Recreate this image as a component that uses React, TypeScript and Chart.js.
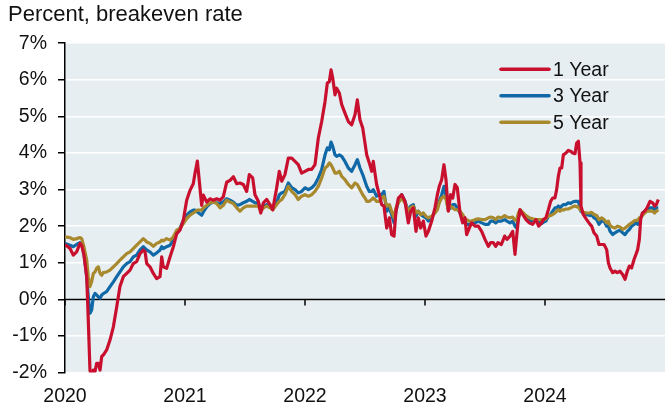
import React, { useEffect, useRef } from "react";
import { Chart, registerables } from "chart.js";

Chart.register(...registerables);

const titleText = "Percent, breakeven rate";
const seriesLabels = ["1 Year", "3 Year", "5 Year"];
const seriesColors = ["#C8102E", "#1068A6", "#A8892E"];
const xTickYears = [2020, 2021, 2022, 2023, 2024];
const yMin = -2;
const yMax = 7;

// decimal years
const dates = [
  2020.000, 2020.042, 2020.069, 2020.097, 2020.125, 2020.139, 2020.158, 2020.181, 2020.194, 2020.208,
  2020.222, 2020.236, 2020.250, 2020.264, 2020.278, 2020.292, 2020.306, 2020.319, 2020.347, 2020.375,
  2020.403, 2020.431, 2020.458, 2020.486, 2020.514, 2020.542, 2020.569, 2020.597, 2020.625, 2020.653,
  2020.667, 2020.681, 2020.708, 2020.736, 2020.764, 2020.792, 2020.806, 2020.819, 2020.847, 2020.875,
  2020.903, 2020.931, 2020.958, 2020.986, 2021.014, 2021.042, 2021.069, 2021.083, 2021.103, 2021.139,
  2021.153, 2021.181, 2021.208, 2021.236, 2021.264, 2021.292, 2021.319, 2021.347, 2021.375, 2021.403,
  2021.431, 2021.458, 2021.486, 2021.514, 2021.536, 2021.564, 2021.583, 2021.611, 2021.631, 2021.653,
  2021.681, 2021.708, 2021.731, 2021.764, 2021.786, 2021.806, 2021.833, 2021.861, 2021.889, 2021.917,
  2021.944, 2021.972, 2022.000, 2022.028, 2022.056, 2022.083, 2022.111, 2022.139, 2022.167, 2022.186,
  2022.203, 2022.217, 2022.231, 2022.250, 2022.264, 2022.286, 2022.306, 2022.333, 2022.361, 2022.389,
  2022.417, 2022.436, 2022.458, 2022.481, 2022.500, 2022.514, 2022.536, 2022.556, 2022.569, 2022.583,
  2022.597, 2022.619, 2022.639, 2022.658, 2022.681, 2022.703, 2022.722, 2022.742, 2022.758, 2022.778,
  2022.806, 2022.833, 2022.861, 2022.881, 2022.903, 2022.925, 2022.944, 2022.964, 2022.986, 2023.008,
  2023.028, 2023.056, 2023.083, 2023.103, 2023.119, 2023.139, 2023.158, 2023.175, 2023.194, 2023.214,
  2023.231, 2023.250, 2023.269, 2023.292, 2023.314, 2023.333, 2023.347, 2023.369, 2023.389, 2023.417,
  2023.444, 2023.472, 2023.500, 2023.528, 2023.547, 2023.569, 2023.589, 2023.608, 2023.636, 2023.664,
  2023.683, 2023.708, 2023.731, 2023.750, 2023.764, 2023.778, 2023.792, 2023.814, 2023.842, 2023.869,
  2023.897, 2023.925, 2023.947, 2023.972, 2023.986, 2024.008, 2024.028, 2024.047, 2024.064, 2024.083,
  2024.097, 2024.111, 2024.125, 2024.139, 2024.153, 2024.175, 2024.194, 2024.214, 2024.231, 2024.250,
  2024.264, 2024.278, 2024.292, 2024.300, 2024.319, 2024.347, 2024.375, 2024.389, 2024.408, 2024.431,
  2024.450, 2024.472, 2024.492, 2024.514, 2024.528, 2024.542, 2024.564, 2024.583, 2024.603, 2024.625,
  2024.647, 2024.667, 2024.686, 2024.703, 2024.722, 2024.742, 2024.758, 2024.772, 2024.786, 2024.797,
  2024.811, 2024.831, 2024.850, 2024.875, 2024.897, 2024.914, 2024.928, 2024.944,
];

const oneYear = [
  1.50, 1.39, 1.21, 1.30, 1.53, 1.48, 1.21, 0.62, -0.56, -1.93,
  -2.15, -1.93, -1.97, -1.75, -1.75, -1.93, -1.56, -1.52, -1.38, -1.11,
  -0.75, -0.20, 0.35, 0.62, 0.71, 0.80, 0.98, 1.03, 1.25, 1.35,
  1.30, 0.98, 0.89, 0.71, 0.57, 0.62, 1.16, 0.89, 0.85, 1.16,
  1.44, 1.80, 1.89, 2.16, 2.71, 2.98, 3.16, 3.44, 3.78, 2.57,
  2.85, 2.66, 2.75, 2.71, 2.75, 2.71, 2.80, 3.20, 3.25, 3.35,
  3.16, 3.18, 3.14, 2.95, 3.41, 3.32, 2.86, 2.68, 2.36, 2.64,
  2.73, 2.59, 2.45, 3.05, 3.50, 3.23, 3.41, 3.86, 3.86, 3.77,
  3.68, 3.45, 3.50, 3.55, 3.55, 3.68, 4.41, 4.86, 5.41, 5.91,
  5.95, 6.27, 6.05, 5.59, 5.77, 5.64, 5.32, 5.09, 4.86, 4.77,
  5.05, 5.45, 4.91, 4.68, 4.27, 3.95, 3.73, 3.50, 3.77, 3.45,
  3.14, 2.86, 2.59, 2.55, 1.95, 2.23, 1.77, 1.73, 2.41, 2.77,
  2.86, 2.68, 2.09, 2.41, 2.50, 1.86, 2.23, 1.95, 2.14, 1.73,
  1.86, 2.14, 2.50, 2.86, 3.09, 3.27, 3.68, 3.27, 2.41, 2.86,
  2.77, 3.14, 3.05, 2.36, 2.09, 2.23, 1.77, 1.95, 2.09, 2.00,
  2.00, 1.86, 1.64, 1.45, 1.55, 1.55, 1.45, 1.55, 1.50, 1.73,
  1.64, 1.73, 1.86, 1.23, 1.73, 2.18, 2.45, 2.32, 2.18, 2.09,
  2.05, 2.18, 2.00, 2.09, 2.18, 2.23, 2.45, 2.68, 2.77, 2.77,
  3.00, 3.36, 3.59, 3.59, 3.95, 4.00, 4.07, 4.05, 4.00, 3.98,
  4.27, 4.32, 3.73, 2.55, 2.32, 2.18, 2.05, 2.00, 1.82, 1.73,
  1.50, 1.50, 1.50, 1.36, 1.00, 0.86, 0.73, 0.77, 0.73, 0.77,
  0.68, 0.55, 0.77, 0.91, 0.86, 1.09, 1.23, 1.36, 1.64, 2.18,
  2.36, 2.41, 2.50, 2.68, 2.64, 2.55, 2.59, 2.73,
];

const threeYear = [
  1.53, 1.48, 1.44, 1.50, 1.55, 1.53, 1.25, 0.62, 0.07, -0.38,
  -0.29, 0.07, 0.16, 0.12, 0.07, 0.03, 0.12, 0.16, 0.21, 0.35,
  0.48, 0.62, 0.75, 0.89, 0.98, 1.03, 1.16, 1.21, 1.35, 1.44,
  1.39, 1.35, 1.30, 1.21, 1.27, 1.35, 1.44, 1.39, 1.44, 1.48,
  1.62, 1.80, 1.94, 2.16, 2.30, 2.39, 2.44, 2.44, 2.39, 2.30,
  2.39, 2.53, 2.62, 2.66, 2.64, 2.62, 2.66, 2.75, 2.71, 2.66,
  2.57, 2.59, 2.64, 2.68, 2.73, 2.68, 2.64, 2.64, 2.45, 2.55,
  2.59, 2.55, 2.50, 2.64, 2.86, 2.91, 2.95, 3.18, 3.05, 3.00,
  2.91, 2.95, 3.05, 3.00, 3.05, 3.14, 3.32, 3.55, 3.95, 4.14,
  4.09, 4.30, 4.18, 3.95, 3.91, 3.95, 3.91, 3.77, 3.59, 3.50,
  3.68, 3.82, 3.59, 3.41, 3.23, 3.09, 2.95, 2.95, 3.00, 2.91,
  2.82, 2.86, 2.86, 2.95, 2.41, 2.50, 2.32, 2.09, 2.41, 2.68,
  2.86, 2.68, 2.41, 2.55, 2.59, 2.27, 2.41, 2.32, 2.27, 2.23,
  2.14, 2.23, 2.41, 2.50, 2.68, 2.86, 3.09, 2.82, 2.45, 2.50,
  2.59, 2.59, 2.50, 2.36, 2.18, 2.14, 2.05, 2.05, 2.09, 2.09,
  2.14, 2.09, 2.05, 2.05, 2.14, 2.14, 2.09, 2.14, 2.14, 2.18,
  2.14, 2.09, 2.14, 2.00, 1.95, 2.23, 2.41, 2.36, 2.23, 2.16,
  2.14, 2.14, 2.14, 2.07, 2.11, 2.14, 2.27, 2.32, 2.41, 2.50,
  2.50, 2.55, 2.50, 2.55, 2.59, 2.59, 2.64, 2.62, 2.66, 2.68,
  2.68, 2.68, 2.50, 2.41, 2.36, 2.32, 2.29, 2.32, 2.23, 2.18,
  2.05, 2.14, 2.14, 2.00, 2.00, 1.86, 1.77, 1.82, 1.86, 1.89,
  1.82, 1.77, 1.86, 1.91, 2.00, 2.05, 2.09, 2.05, 2.14, 2.23,
  2.32, 2.41, 2.45, 2.50, 2.50, 2.45, 2.50, 2.50,
];

const fiveYear = [
  1.71, 1.69, 1.64, 1.66, 1.69, 1.66, 1.44, 1.07, 0.62, 0.35,
  0.48, 0.71, 0.75, 0.85, 0.89, 0.71, 0.66, 0.73, 0.75, 0.80,
  0.89, 0.98, 1.07, 1.16, 1.25, 1.30, 1.39, 1.48, 1.57, 1.66,
  1.62, 1.57, 1.53, 1.45, 1.53, 1.57, 1.62, 1.60, 1.66, 1.62,
  1.71, 1.89, 1.94, 2.07, 2.21, 2.30, 2.36, 2.39, 2.44, 2.44,
  2.50, 2.57, 2.64, 2.66, 2.62, 2.50, 2.57, 2.71, 2.66, 2.62,
  2.50, 2.41, 2.50, 2.55, 2.55, 2.55, 2.55, 2.55, 2.41, 2.50,
  2.55, 2.50, 2.45, 2.59, 2.68, 2.73, 2.86, 3.09, 2.95, 2.86,
  2.73, 2.82, 2.86, 2.82, 2.86, 2.95, 3.09, 3.32, 3.59, 3.64,
  3.73, 3.68, 3.59, 3.45, 3.45, 3.50, 3.36, 3.27, 3.14, 3.05,
  3.18, 3.14, 3.00, 2.86, 2.77, 2.68, 2.68, 2.73, 2.77, 2.73,
  2.68, 2.68, 2.77, 2.82, 2.55, 2.59, 2.41, 2.23, 2.50, 2.64,
  2.77, 2.64, 2.41, 2.50, 2.55, 2.36, 2.41, 2.32, 2.36, 2.27,
  2.23, 2.27, 2.36, 2.45, 2.64, 2.77, 2.82, 2.73, 2.45, 2.55,
  2.50, 2.45, 2.45, 2.41, 2.32, 2.18, 2.18, 2.14, 2.14, 2.18,
  2.20, 2.18, 2.18, 2.23, 2.25, 2.23, 2.18, 2.25, 2.23, 2.29,
  2.25, 2.23, 2.25, 2.16, 2.18, 2.36, 2.45, 2.38, 2.29, 2.23,
  2.20, 2.18, 2.18, 2.18, 2.18, 2.20, 2.29, 2.29, 2.32, 2.36,
  2.41, 2.45, 2.41, 2.45, 2.44, 2.47, 2.47, 2.50, 2.53, 2.55,
  2.53, 2.53, 2.45, 2.44, 2.38, 2.36, 2.36, 2.38, 2.32, 2.29,
  2.18, 2.23, 2.18, 2.09, 2.14, 2.02, 1.97, 1.95, 2.00, 1.98,
  1.91, 1.95, 2.00, 2.05, 2.09, 2.14, 2.16, 2.16, 2.23, 2.25,
  2.29, 2.36, 2.41, 2.41, 2.41, 2.36, 2.41, 2.45,
];

const FONT = '"Liberation Sans", Arial, Helvetica, sans-serif';
const TEXT_COLOR = "#111111";
const PLOT_BG = "#E6EEF2";

const plotBackground = {
  id: "plotBackground",
  beforeDraw(chart: any) {
    const { ctx, chartArea } = chart;
    ctx.save();
    ctx.fillStyle = PLOT_BG;
    ctx.fillRect(chartArea.left, chartArea.top, chartArea.right - chartArea.left, chartArea.bottom - chartArea.top);
    ctx.restore();
  },
};

const zeroAxis = {
  id: "zeroAxis",
  beforeDatasetsDraw(chart: any) {
    const { ctx, chartArea, scales } = chart;
    const y0 = scales.y.getPixelForValue(0);
    ctx.save();
    ctx.strokeStyle = "#000";
    ctx.lineWidth = 1.5;
    ctx.beginPath();
    ctx.moveTo(chartArea.left, y0);
    ctx.lineTo(chartArea.right, y0);
    ctx.stroke();
    xTickYears.forEach((yr) => {
      const x = scales.x.getPixelForValue(yr);
      ctx.beginPath();
      ctx.moveTo(x, y0);
      ctx.lineTo(x, y0 + 6);
      ctx.stroke();
    });
    ctx.restore();
  },
};

const insideLegend = {
  id: "insideLegend",
  afterDatasetsDraw(chart: any) {
    const { ctx, chartArea } = chart;
    ctx.save();
    ctx.font = `19.5px ${FONT}`;
    ctx.textBaseline = "middle";
    ctx.textAlign = "left";
    chart.data.datasets.forEach((ds: any, i: number) => {
      const y = chartArea.top + 26 + i * 26.5;
      const x0 = chartArea.right - 164;
      ctx.strokeStyle = ds.borderColor;
      ctx.lineWidth = 3.5;
      ctx.lineCap = "round";
      ctx.beginPath();
      ctx.moveTo(x0, y);
      ctx.lineTo(x0 + 48, y);
      ctx.stroke();
      ctx.fillStyle = TEXT_COLOR;
      ctx.fillText(ds.label, x0 + 52, y + 1);
    });
    ctx.restore();
  },
};

export default function App() {
  const canvasRef = useRef<HTMLCanvasElement | null>(null);

  useEffect(() => {
    document.body.style.margin = "0";
    const canvas = canvasRef.current;
    if (!canvas) return;
    const series = [oneYear, threeYear, fiveYear];
    const drawOrder = [0, 2, 1];
    const chart = new Chart(canvas, {
      type: "line",
      data: {
        datasets: series.map((vals, i) => ({
          label: seriesLabels[i],
          data: dates.map((d, j) => ({ x: d, y: vals[j] })),
          borderColor: seriesColors[i],
          backgroundColor: seriesColors[i],
          borderWidth: 3.2,
          pointRadius: 0,
          pointHoverRadius: 0,
          pointHitRadius: 0,
          tension: 0,
          borderJoinStyle: "round" as const,
          order: drawOrder[i],
        })),
      },
      options: {
        animation: false,
        responsive: false,
        devicePixelRatio: 1,
        events: [],
        layout: { autoPadding: false, padding: { left: 8, right: 1, top: 0, bottom: -1.5 } },
        plugins: {
          legend: { display: false },
          tooltip: { enabled: false },
          title: {
            display: true,
            text: titleText,
            align: "start",
            color: TEXT_COLOR,
            font: { family: FONT, size: 22, weight: "normal" },
            padding: { top: 2, bottom: 14.8 },
          },
        },
        scales: {
          x: {
            type: "linear",
            min: 2020,
            max: 2025,
            grid: { display: false, drawTicks: true, tickLength: 12.5 },
            border: { display: false },
            ticks: {
              stepSize: 1,
              autoSkip: false,
              maxRotation: 0,
              padding: 0,
              color: TEXT_COLOR,
              font: { family: FONT, size: 19.5 },
              callback: (v: any) => (xTickYears.includes(Number(v)) ? String(v) : ""),
            },
          },
          y: {
            min: yMin,
            max: yMax,
            afterFit: (scale: any) => {
              scale.width = 57;
            },
            grid: {
              color: "#ffffff",
              lineWidth: 1.5,
              drawTicks: true,
              tickLength: 7,
              tickColor: "#000",
              tickWidth: 1.5,
            },
            border: { display: true, color: "#000", width: 1.5 },
            ticks: {
              stepSize: 1,
              padding: 11,
              color: TEXT_COLOR,
              font: { family: FONT, size: 19.5 },
              callback: (v: any) => `${v}%`,
            },
          },
        },
      },
      plugins: [plotBackground, zeroAxis, insideLegend],
    });
    return () => chart.destroy();
  }, []);

  return (
    <div style={{ width: 666, height: 407 }}>
      <canvas ref={canvasRef} width={666} height={407} style={{ display: "block" }} />
    </div>
  );
}
